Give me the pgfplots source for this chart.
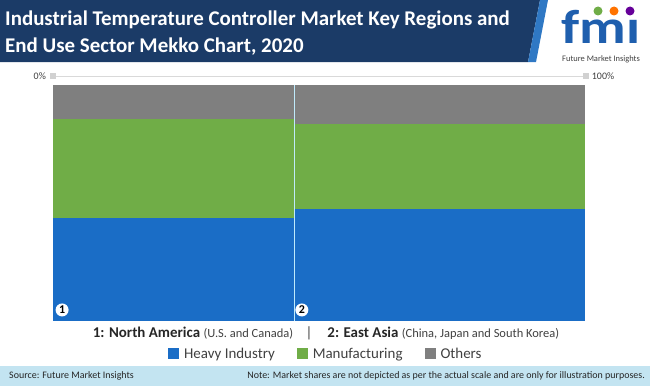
\documentclass[border=0pt]{standalone}
\usepackage{pgfplots}
\pgfplotsset{compat=1.18}
\usepackage{fontspec}
\setmainfont{Carlito}
\definecolor{cblue}{HTML}{1A6DC6}
\definecolor{cgreen}{HTML}{70AD47}
\definecolor{cgray}{HTML}{7F7F7F}
\definecolor{hdr}{HTML}{1B3B67}
\definecolor{hdrlight}{HTML}{2F78C4}
\definecolor{footblue}{HTML}{C3E4F1}
\definecolor{txt}{HTML}{404040}
\definecolor{logoblue}{HTML}{1F5FAE}
\begin{document}
\begin{tikzpicture}[x=1bp,y=1bp]
\useasboundingbox (0,0) rectangle (650,386);
% header
\fill[hdr] (0,386) -- (540,386) -- (528,324) -- (0,324) -- cycle;
\fill[hdrlight] (540,386) -- (548,386) -- (536,324) -- (528,324) -- cycle;
\node[anchor=base west, text=white, font=\fontsize{21}{24}\selectfont\bfseries, inner sep=0] at (5,361) {Industrial Temperature Controller Market Key Regions and};
\node[anchor=base west, text=white, font=\fontsize{21}{24}\selectfont\bfseries, inner sep=0] at (5,334) {End Use Sector Mekko Chart, 2020};
% logo
\node[anchor=base, text=logoblue, font=\fontsize{48}{48}\selectfont\bfseries, inner sep=0, text depth=0pt, text height=34bp, xscale=1.2] at (601,343) {fm\i};
\fill[cgreen] (598,375) circle (4.5);
\fill[orange!90!red] (614,375) circle (4.5);
\fill[violet!80!blue] (630,375) circle (4.5);
\node[anchor=base, text=txt, font=\fontsize{8.5}{9}\selectfont, inner sep=0] at (601,325) {Future Market Insights};
% footer
\fill[footblue] (0,0) rectangle (650,20);
\node[anchor=west, text=black!85, font=\fontsize{10}{11}\selectfont, inner sep=0] at (9,10) {Source: Future Market Insights};
\node[anchor=east, text=black!85, font=\fontsize{10}{11}\selectfont, inner sep=0] at (645,10) {Note: Market shares are not depicted as per the actual scale and are only for illustration purposes.};
% region description
\node[anchor=base, text=txt, inner sep=0] at (326,49) {\fontsize{15}{17}\selectfont\bfseries\color{black!85}1: North America \fontsize{12.5}{14}\selectfont\mdseries\color{txt}(U.S. and Canada)\quad\fontsize{15}{17}\selectfont |\quad\bfseries\color{black!85}2: East Asia \fontsize{12.5}{14}\selectfont\mdseries\color{txt}(China, Japan and South Korea)};
\begin{axis}[
  at={(52.5bp,64.7bp)}, anchor=south west,
  width=532.8bp, height=236.6bp, scale only axis,
  xmin=0, xmax=100, ymin=0, ymax=100,
  hide axis, clip=false,
  legend columns=3,
  legend style={at={(0.513,-0.138)}, anchor=center, draw=none, fill=none,
    font=\fontsize{15}{17}\selectfont, text=txt,
    /tikz/every even column/.append style={column sep=20bp},
    /tikz/every odd column/.append style={column sep=3bp}},
  legend image code/.code={\fill[#1] (0bp,-5.5bp) rectangle (11bp,5.5bp);},
]
% top scale
\addplot[draw=black!15, line width=0.8pt, forget plot] coordinates {(0,103.7) (100,103.7)};
\addplot[only marks, mark=square*, mark size=2.5bp, mark options={fill=black!18, draw=black!18}, forget plot] coordinates {(0,103.7) (100,103.7)};
\node[anchor=east, text=txt, font=\fontsize{10}{11}\selectfont, inner sep=0] at (axis cs:-1.2,103.7) {0\%};
\node[anchor=west, text=txt, font=\fontsize{10}{11}\selectfont, inner sep=0] at (axis cs:101.2,103.7) {100\%};
% North America (width 45.3)
\addplot[fill=cblue, draw=none] coordinates {(0,0) (0,43.5) (45.3,43.5) (45.3,0)} -- cycle;
\addlegendentry{Heavy Industry}
\addplot[fill=cgreen, draw=none] coordinates {(0,43.5) (0,85.3) (45.3,85.3) (45.3,43.5)} -- cycle;
\addlegendentry{Manufacturing}
\addplot[fill=cgray, draw=none] coordinates {(0,85.3) (0,100) (45.3,100) (45.3,85.3)} -- cycle;
\addlegendentry{Others}
% East Asia (width 54.7)
\addplot[fill=cblue, draw=none, forget plot] coordinates {(45.3,0) (45.3,47.5) (100,47.5) (100,0)} -- cycle;
\addplot[fill=cgreen, draw=none, forget plot] coordinates {(45.3,47.5) (45.3,83.4) (100,83.4) (100,47.5)} -- cycle;
\addplot[fill=cgray, draw=none, forget plot] coordinates {(45.3,83.4) (45.3,100) (100,100) (100,83.4)} -- cycle;
% divider
\addplot[draw=cyan!25!white, line width=0.7pt, forget plot] coordinates {(45.3,0) (45.3,100)};
% region markers
\node[circle, fill=white, inner sep=0, minimum size=13bp, font=\fontsize{12}{12}\selectfont\bfseries] at (axis cs:1.8,4.8) {1};
\node[circle, fill=white, inner sep=0, minimum size=13bp, font=\fontsize{12}{12}\selectfont\bfseries] at (axis cs:46.8,4.8) {2};
\end{axis}
\end{tikzpicture}
\end{document}
